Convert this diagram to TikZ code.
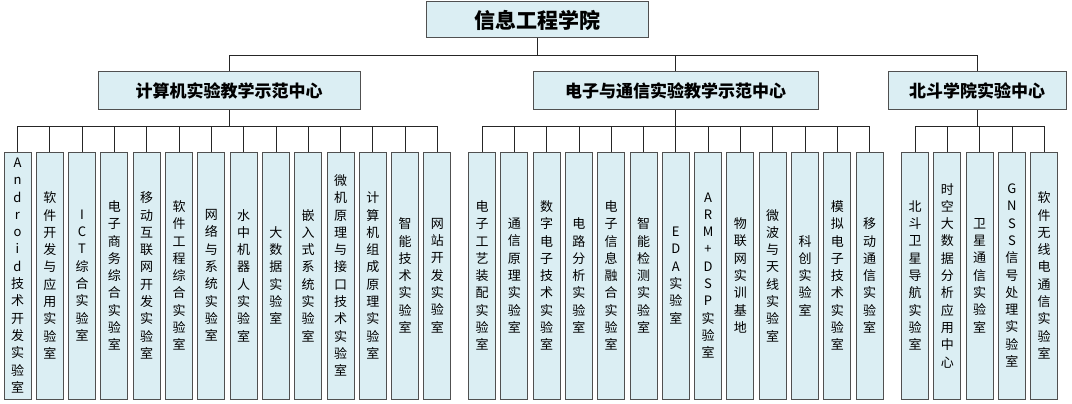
\documentclass[tikz,border=0pt]{standalone}
\usepackage{fontspec}
\newfontfamily\cjk{Noto Sans CJK SC}
\newcommand\vs[1]{\vsfirst#1\relax}
\def\vsfirst#1{#1\vsrest}
\def\vsrest#1{\ifx#1\relax\else\\#1\expandafter\vsrest\fi}
\newcommand\vsx[1]{\expandafter\vs\expandafter{#1}}
\definecolor{bx}{HTML}{DBEEF3}
\definecolor{bd}{HTML}{505050}
\tikzset{
 box/.style={draw=bd,line width=1pt,fill=bx,inner sep=0pt},
 top/.style={box,minimum width=222pt,minimum height=36pt,font=\cjk\bfseries\fontsize{21}{24}\selectfont},
 mid/.style={box,minimum height=38pt,font=\cjk\bfseries\fontsize{17}{20}\selectfont},
 leaf/.style={box,minimum width=27pt,minimum height=247pt,align=center,font=\cjk\fontsize{13}{17.3}\selectfont},
 con/.style={draw=black!85,line width=0.8pt}
}
\begin{document}
\begin{tikzpicture}[x=1pt,y=1pt]
\useasboundingbox (0,0) rectangle (1072,-404);
\node[top] (t) at (537,-20) {信息工程学院};
\node[mid,minimum width=262pt] (m1) at (229,-91) {计算机实验教学示范中心};
\node[mid,minimum width=285pt] (m2) at (675.5,-91) {电子与通信实验教学示范中心};
\node[mid,minimum width=178pt] (m3) at (977,-91) {北斗学院实验中心};
\coordinate (h0) at (0,-55);
\foreach \m in {m1,m2,m3}{\draw[con] (t.south) -- (t.south|-h0) -| (\m.north);}
\coordinate (h1) at (0,-126);
\foreach [count=\i from 0] \s in {Android技术开发实验室,软件开发与应用实验室,ICT综合实验室,电子商务综合实验室,移动互联网开发实验室,软件工程综合实验室,网络与系统实验室,水中机器人实验室,大数据实验室,嵌入式系统实验室,微机原理与接口技术实验室,计算机组成原理实验室,智能技术实验室,网站开发实验室}{
 \node[leaf] (a\i) at (17.5+32.3*\i,-275.5) {\vsx{\s}};
 \draw[con] (m1.south) -- (m1.south|-h1) -| (a\i.north);}
\foreach [count=\i from 0] \s in {电子工艺装配实验室,通信原理实验室,数字电子技术实验室,电路分析实验室,电子信息融合实验室,智能检测实验室,EDA实验室,ARM+DSP实验室,物联网实训基地,微波与天线实验室,科创实验室,模拟电子技术实验室,移动通信实验室}{
 \node[leaf] (b\i) at (482+32.3*\i,-275.5) {\vsx{\s}};
 \draw[con] (m2.south) -- (m2.south|-h1) -| (b\i.north);}
\foreach [count=\i from 0] \s in {北斗卫星导航实验室,时空大数据分析应用中心,卫星通信实验室,GNSS信号处理实验室,软件无线电通信实验室}{
 \node[leaf] (c\i) at (915+32.3*\i,-275.5) {\vsx{\s}};
 \draw[con] (m3.south) -- (m3.south|-h1) -| (c\i.north);}
\end{tikzpicture}
\end{document}
